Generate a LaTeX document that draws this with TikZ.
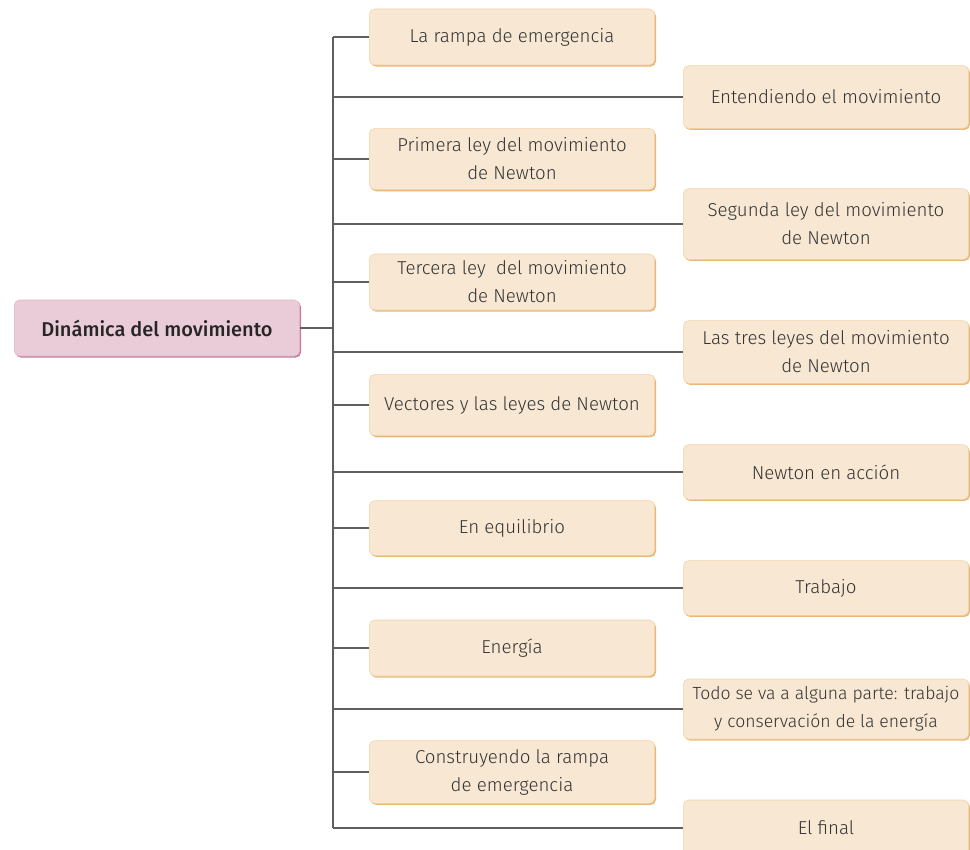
\documentclass[tikz,border=0pt]{standalone}
\usepackage{fontspec}
\setmainfont{Fira Sans}[UprightFont=* Light,BoldFont=* Medium]
\usepackage{xcolor}
\usetikzlibrary{shadows}

\definecolor{boxfill}{HTML}{F8E8D3}
\definecolor{boxline}{HTML}{F3D2A6}
\definecolor{boxshade}{HTML}{E9B877}
\definecolor{rootfill}{HTML}{E9CCD8}
\definecolor{rootline}{HTML}{E2B4C6}
\definecolor{rootshade}{HTML}{C87B9C}
\definecolor{linegray}{HTML}{5F5F5F}

\begin{document}
\begin{tikzpicture}[x=0.75pt,y=-0.75pt,
  box/.style={draw=boxline,fill=boxfill,rounded corners=4pt,minimum width=214pt,minimum height=#1,
    align=center,inner sep=1pt,text=black!80,font=\fontsize{14}{21}\selectfont,
    general shadow={shadow xshift=1pt,shadow yshift=-1.2pt,fill=boxshade}},
  box/.default=42pt,
  rootbox/.style={draw=rootline,fill=rootfill,rounded corners=4pt,minimum width=214pt,minimum height=42pt,
    align=center,text=black!85,font=\fontsize{15}{18}\selectfont\bfseries,
    general shadow={shadow xshift=1pt,shadow yshift=-1.2pt,fill=rootshade}},
  conn/.style={draw=linegray,line width=1.1pt}]
\useasboundingbox (0,0) rectangle (970,849);

\node[rootbox] (root) at (157,328) {Dinámica del movimiento};

% left column
\node[box] (rampa) at (512,37) {La rampa de emergencia};
\node[box=46pt] (primera) at (512,159) {Primera ley del movimiento\\de Newton};
\node[box] (tercera) at (512,282) {Tercera ley \ del movimiento\\de Newton};
\node[box=46pt] (vectores) at (512,405) {Vectores y las leyes de Newton};
\node[box=41pt] (equilibrio) at (512,528) {En equilibrio};
\node[box] (energia) at (512,648) {Energía};
\node[box=47pt] (construyendo) at (512,772) {Construyendo la rampa\\de emergencia};

% right column
\node[box=47pt] (entendiendo) at (826,97) {Entendiendo el movimiento};
\node[box=53pt] (segunda) at (826,224) {Segunda ley del movimiento\\de Newton};
\node[box=47pt] (tresleyes) at (826,352) {Las tres leyes del movimiento\\de Newton};
\node[box=41pt] (accion) at (826,472) {Newton en acción};
\node[box=41pt] (trabajo) at (826,588) {Trabajo};
\node[box=45pt,font=\fontsize{13.2}{21}\selectfont] (todo) at (826,709) {Todo se va a alguna parte: trabajo\\y conservación de la energía};
\node[box] (final) at (826,828) {El final};

% trunk
\coordinate (trunk) at (333,328);
\draw[conn] (root) -- (trunk);
\draw[conn] (trunk |- rampa.west) -- (trunk |- final.west);
\draw[conn] (trunk |- rampa.west) -- (rampa.west);
\draw[conn] (trunk |- entendiendo.west) -- (entendiendo.west);
\draw[conn] (trunk |- primera.west) -- (primera.west);
\draw[conn] (trunk |- segunda.west) -- (segunda.west);
\draw[conn] (trunk |- tercera.west) -- (tercera.west);
\draw[conn] (trunk |- tresleyes.west) -- (tresleyes.west);
\draw[conn] (trunk |- vectores.west) -- (vectores.west);
\draw[conn] (trunk |- accion.west) -- (accion.west);
\draw[conn] (trunk |- equilibrio.west) -- (equilibrio.west);
\draw[conn] (trunk |- trabajo.west) -- (trabajo.west);
\draw[conn] (trunk |- energia.west) -- (energia.west);
\draw[conn] (trunk |- todo.west) -- (todo.west);
\draw[conn] (trunk |- construyendo.west) -- (construyendo.west);
\draw[conn] (trunk |- final.west) -- (final.west);
\end{tikzpicture}
\end{document}
